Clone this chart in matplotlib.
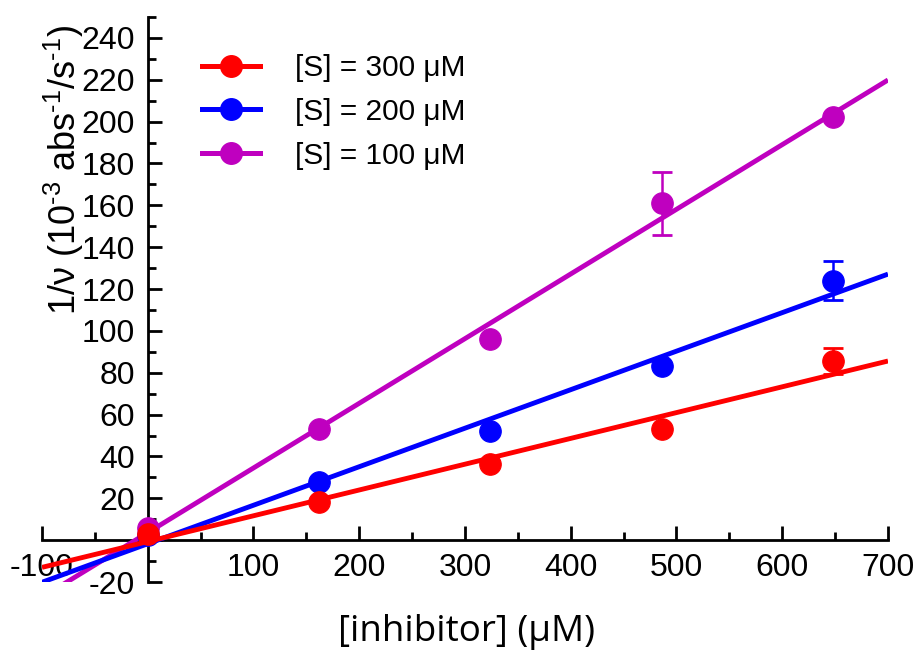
import numpy as np
import matplotlib
matplotlib.use("Agg")
import matplotlib.pyplot as plt
from matplotlib.ticker import FixedLocator, MultipleLocator, FuncFormatter
from matplotlib.lines import Line2D

plt.rcParams['font.family'] = ['Liberation Sans', 'DejaVu Sans']
plt.rcParams['mathtext.fontset'] = 'custom'
plt.rcParams['mathtext.rm'] = 'Liberation Sans'
plt.rcParams['mathtext.it'] = 'Liberation Sans:italic'
plt.rcParams['mathtext.bf'] = 'Liberation Sans:bold'

# Dixon plot data: inhibitor concentration (uM) vs 1/v at three substrate levels
inhibitor = [0, 162, 324, 486, 648]

inv_v_300 = [3.0, 18.3, 36.5, 53.0, 85.5]
err_300 = [0.0, 0.0, 0.0, 0.0, 6.3]

inv_v_200 = [2.5, 27.8, 52.3, 83.0, 124.0]
err_200 = [0.0, 0.0, 0.0, 0.0, 9.2]

inv_v_100 = [6.0, 53.2, 96.0, 161.0, 202.4]
err_100 = [0.0, 0.0, 0.0, 15.0, 0.0]

series_labels = ['[S] = 300 \u03bcM', '[S] = 200 \u03bcM', '[S] = 100 \u03bcM']
colors = ['#ff0000', '#0000ff', '#bf00bf']

x_ticks = [-100, 0, 100, 200, 300, 400, 500, 600, 700]
y_ticks = [-20, 0, 20, 40, 60, 80, 100, 120, 140, 160, 180, 200, 220, 240]

fig = plt.figure(figsize=(9.2, 6.55), dpi=100)
ax = fig.add_axes([42 / 920, 1 - 582 / 655, 846 / 920, 565 / 655])

ax.set_xlim(-100, 700)
ax.set_ylim(-20, 250)

x_arr = np.array(inhibitor, dtype=float)
x_fit = np.array([-100.0, 700.0])

datasets = [(inv_v_300, err_300), (inv_v_200, err_200), (inv_v_100, err_100)]

# draw purple first so red ends on top
for idx in [2, 1, 0]:
    y, e = datasets[idx]
    c = colors[idx]
    slope, intercept = np.polyfit(x_arr, np.array(y), 1)
    z = 3 + (2 - idx) * 0.3
    ax.plot(x_fit, slope * x_fit + intercept, color=c, lw=3.5,
            solid_capstyle='butt', zorder=z)
    ax.errorbar(inhibitor, y, yerr=e, fmt='none', ecolor=c, elinewidth=1.8,
                capsize=7.4, capthick=2, zorder=z + 0.05)
    ax.plot(inhibitor, y, 'o', color=c, ms=15.5, mew=0.8, mec=c,
            zorder=z + 0.1)

# spines crossing at the origin
for s in ['top', 'right']:
    ax.spines[s].set_visible(False)
ax.spines['left'].set_position(('data', 0))
ax.spines['bottom'].set_position(('data', 0))
ax.spines['left'].set_linewidth(2)
ax.spines['bottom'].set_linewidth(2)

ax.xaxis.set_major_locator(FixedLocator(x_ticks))
ax.xaxis.set_minor_locator(MultipleLocator(50))
ax.yaxis.set_major_locator(FixedLocator(y_ticks))
ax.yaxis.set_minor_locator(MultipleLocator(10))

blank_zero = FuncFormatter(lambda v, p: '' if abs(v) < 1e-9 else f'{v:.0f}')
ax.xaxis.set_major_formatter(blank_zero)
ax.yaxis.set_major_formatter(blank_zero)

ax.tick_params(which='major', direction='in', length=10, width=2,
               labelsize=23)
ax.tick_params(which='minor', direction='in', length=5.5, width=2)
ax.tick_params(axis='x', which='major', pad=9)
ax.tick_params(axis='y', which='major', pad=9)

fig.text(467 / 920, 1 - 632 / 655, '[inhibitor] (\u03bcM)', ha='center',
         va='center', fontsize=26.5, family=['Open Sans', 'DejaVu Sans'])
fig.text(64 / 920, 1 - 170 / 655,
         '1/\u03bd (10$^{\\text{-3}}$ abs$^{\\text{-1}}$/s$^{\\text{-1}}$)',
         ha='center', va='center', rotation=90, fontsize=26)

handles = [Line2D([], [], color=c, lw=3.6, marker='o', ms=15.5, mec=c)
           for c in colors]
ax.legend(handles, series_labels, loc='upper left',
          bbox_to_anchor=(202 / 920, 1 - 54 / 655),
          bbox_transform=fig.transFigure, frameon=False, fontsize=21.5,
          handlelength=1.95, handletextpad=1.15, labelspacing=0.53,
          borderpad=0, borderaxespad=0)

fig.savefig('out.png', dpi=100)
